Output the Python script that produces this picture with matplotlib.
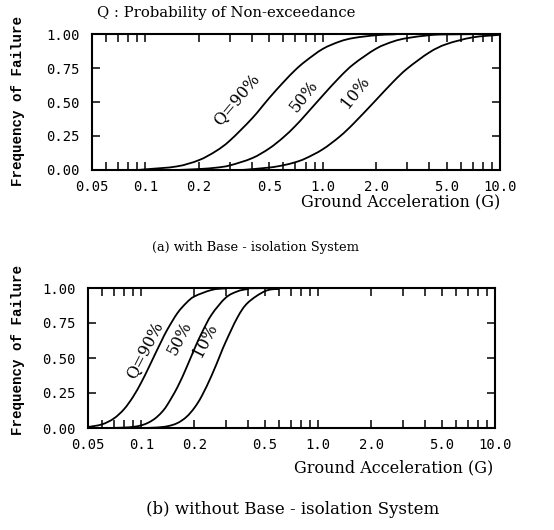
import numpy as np
import matplotlib
matplotlib.use("Agg")
import matplotlib.pyplot as plt
from matplotlib.path import Path
from matplotlib.patches import PathPatch
from matplotlib.ticker import FixedLocator, LogLocator, NullFormatter

# ---------------- data ----------------
# (a) with base-isolation system
a_x_q90 = [0.09, 0.10, 0.15, 0.20, 0.25, 0.30, 0.40, 0.50, 0.60, 0.70, 0.80, 1.00, 1.25, 1.50, 2.00, 2.50, 3.00, 10.0]
a_f_q90 = [0.000, 0.005, 0.026, 0.072, 0.139, 0.217, 0.380, 0.530, 0.645, 0.735, 0.800, 0.890, 0.945, 0.971, 0.991, 0.997, 1.000, 1.000]

a_x_q50 = [0.15, 0.20, 0.25, 0.30, 0.40, 0.50, 0.60, 0.70, 0.80, 1.00, 1.25, 1.50, 2.00, 2.50, 3.00, 4.00, 5.00, 10.0]
a_f_q50 = [0.000, 0.007, 0.017, 0.034, 0.087, 0.159, 0.240, 0.323, 0.405, 0.547, 0.684, 0.780, 0.892, 0.945, 0.970, 0.991, 0.997, 1.000]

a_x_q10 = [0.35, 0.50, 0.60, 0.70, 0.80, 1.00, 1.25, 1.50, 2.00, 2.50, 3.00, 4.00, 5.00, 7.00, 10.0]
a_f_q10 = [0.000, 0.018, 0.035, 0.057, 0.085, 0.152, 0.247, 0.344, 0.515, 0.649, 0.746, 0.865, 0.926, 0.975, 0.994]

# (b) without base-isolation system
b_x_q90 = [0.05, 0.06, 0.07, 0.08, 0.09, 0.10, 0.11, 0.12, 0.13, 0.14, 0.16, 0.18, 0.20, 0.25, 0.30, 0.40, 10.0]
b_f_q90 = [0.007, 0.026, 0.068, 0.135, 0.224, 0.325, 0.430, 0.530, 0.620, 0.700, 0.820, 0.894, 0.940, 0.986, 0.997, 1.000, 1.000]

b_x_q50 = [0.07, 0.08, 0.09, 0.10, 0.11, 0.12, 0.13, 0.14, 0.16, 0.18, 0.20, 0.22, 0.25, 0.30, 0.35, 0.40, 0.50, 10.0]
b_f_q50 = [0.001, 0.003, 0.008, 0.019, 0.039, 0.069, 0.110, 0.163, 0.290, 0.430, 0.566, 0.680, 0.810, 0.930, 0.976, 0.992, 0.999, 1.000]

b_x_q10 = [0.10, 0.12, 0.14, 0.16, 0.18, 0.20, 0.22, 0.25, 0.28, 0.30, 0.35, 0.40, 0.50, 0.60, 0.70, 10.0]
b_f_q10 = [0.000, 0.003, 0.012, 0.035, 0.079, 0.145, 0.229, 0.375, 0.524, 0.614, 0.790, 0.894, 0.977, 0.995, 1.000, 1.000]

x_tick_vals = [0.05, 0.1, 0.2, 0.5, 1.0, 2.0, 5.0, 10.0]
x_tick_labels = ["0.05", "0.1", "0.2", "0.5", "1.0", "2.0", "5.0", "10.0"]
y_tick_vals = [0.0, 0.25, 0.5, 0.75, 1.0]
y_tick_labels = ["0.00", "0.25", "0.50", "0.75", "1.00"]

curve_labels = ["Q=90%", "50%", "10%"]
# ------------------------------------------------------------

W, H = 554, 530
fig = plt.figure(figsize=(W / 100, H / 100), dpi=100)
fig.patch.set_facecolor("white")

MONO = "DejaVu Sans Mono"
SERIF = "DejaVu Serif"


def px_axes(l, r, t, b):
    return fig.add_axes([l / W, 1 - b / H, (r - l) / W, (b - t) / H])


def smooth_curve(ax, xs, ys):
    lx = np.log10(np.asarray(xs, float))
    y = np.asarray(ys, float)
    n = len(lx)
    verts = [(xs[0], ys[0])]
    codes = [Path.MOVETO]
    for i in range(n - 1):
        i0 = max(i - 1, 0)
        i3 = min(i + 2, n - 1)
        c1x = lx[i] + (lx[i + 1] - lx[i0]) / 6
        c1y = y[i] + (y[i + 1] - y[i0]) / 6
        c2x = lx[i + 1] - (lx[i3] - lx[i]) / 6
        c2y = y[i + 1] - (y[i3] - y[i]) / 6
        verts += [(10 ** c1x, c1y), (10 ** c2x, c2y), (10 ** lx[i + 1], y[i + 1])]
        codes += [Path.CURVE4] * 3
    patch = PathPatch(Path(verts, codes), fill=False, edgecolor="black",
                      lw=1.3, transform=ax.transData, clip_on=True)
    ax.add_patch(patch)


def style_axes(ax):
    ax.set_xscale("log")
    ax.set_xlim(0.05, 10.0)
    ax.set_ylim(0.0, 1.0)
    ax.xaxis.set_major_locator(FixedLocator(x_tick_vals))
    ax.set_xticklabels(x_tick_labels)
    ax.xaxis.set_minor_locator(LogLocator(base=10, subs=np.arange(2, 10)))
    ax.xaxis.set_minor_formatter(NullFormatter())
    ax.set_yticks(y_tick_vals)
    ax.set_yticklabels(y_tick_labels)
    ax.tick_params(which="both", direction="in", top=True, right=True,
                   length=6, width=1.1, colors="black")
    ax.tick_params(axis="x", which="major", pad=7)
    ax.tick_params(axis="y", which="major", pad=9)
    for lab in ax.get_xticklabels() + ax.get_yticklabels():
        lab.set_fontfamily(MONO)
        lab.set_fontsize(10)
    for sp in ax.spines.values():
        sp.set_linewidth(1.5)
    ax.set_facecolor("none")


# ---- panel (a)
ax1 = px_axes(92, 500, 34, 170)
style_axes(ax1)
smooth_curve(ax1, a_x_q90, a_f_q90)
smooth_curve(ax1, a_x_q50, a_f_q50)
smooth_curve(ax1, a_x_q10, a_f_q10)
ax1.text(0.325, 0.52, curve_labels[0], rotation=50, ha="center", va="center",
         fontfamily=SERIF, fontsize=11.5)
ax1.text(0.79, 0.54, curve_labels[1], rotation=52, ha="center", va="center",
         fontfamily=SERIF, fontsize=11.5)
ax1.text(1.52, 0.57, curve_labels[2], rotation=52, ha="center", va="center",
         fontfamily=SERIF, fontsize=11.5)

# ---- panel (b)
ax2 = px_axes(88, 495, 288, 428)
style_axes(ax2)
smooth_curve(ax2, b_x_q90, b_f_q90)
smooth_curve(ax2, b_x_q50, b_f_q50)
smooth_curve(ax2, b_x_q10, b_f_q10)
ax2.text(0.104, 0.56, curve_labels[0], rotation=63, ha="center", va="center",
         fontfamily=SERIF, fontsize=11.5)
ax2.text(0.166, 0.64, curve_labels[1], rotation=63, ha="center", va="center",
         fontfamily=SERIF, fontsize=11.5)
ax2.text(0.231, 0.625, curve_labels[2], rotation=63, ha="center", va="center",
         fontfamily=SERIF, fontsize=11.5)


def ftext(x, y, s, **kw):
    fig.text(x / W, 1 - y / H, s, **kw)


ftext(97, 13, "Q : Probability of Non-exceedance", ha="left", va="center",
      fontfamily=SERIF, fontsize=10.7)
ftext(18, 101, "Frequency of Failure", rotation=90, ha="center", va="center",
      fontfamily="Liberation Mono", fontweight="bold", fontsize=10.2)
ftext(18, 350, "Frequency of Failure", rotation=90, ha="center", va="center",
      fontfamily="Liberation Mono", fontweight="bold", fontsize=10.2)
ftext(500, 202, "Ground Acceleration (G)", ha="right", va="center",
      fontfamily=SERIF, fontsize=11.5)
ftext(493, 468, "Ground Acceleration (G)", ha="right", va="center",
      fontfamily=SERIF, fontsize=11.5)
ftext(256, 247, "(a) with Base - isolation System", ha="center", va="center",
      fontfamily=SERIF, fontsize=9.4)
ftext(293, 510, "(b) without Base - isolation System", ha="center", va="center",
      fontfamily=SERIF, fontsize=12)

fig.savefig("out.png", dpi=100, facecolor="white")
